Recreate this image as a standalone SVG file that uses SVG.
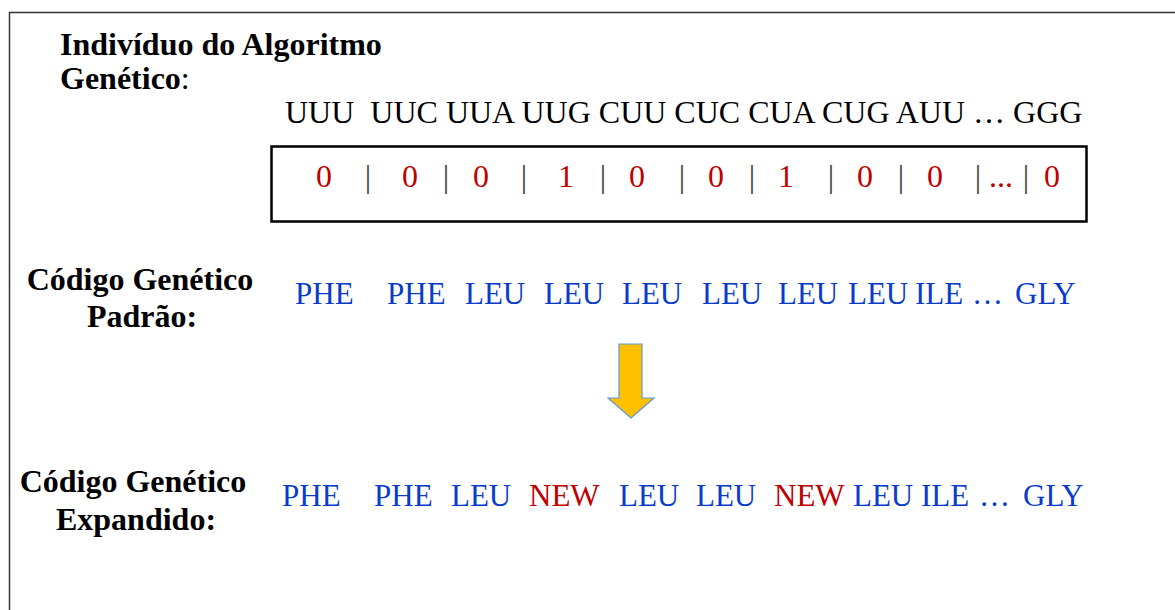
<svg xmlns="http://www.w3.org/2000/svg" width="1175" height="610" viewBox="0 0 1175 610">
<style>
text{font-family:"Liberation Serif","Times New Roman",serif;}
.lbl{font-size:32px;font-weight:bold;fill:#000;}
.cod{font-size:32px;fill:#000;white-space:pre;}
.bit{font-size:32px;fill:#C00000;}
.bar{font-size:32px;fill:#404040;}
.aa{font-size:31px;fill:#0A3CCB;}
.new{fill:#C00000;}
</style>
<rect width="1175" height="610" fill="#fff"/>
<g id="frame">
<rect x="9.5" y="12.5" width="1180" height="620" fill="none" stroke="#333" stroke-width="1.5"/>
</g>
<g id="individuo">
<text class="lbl" x="60" y="55">Indivíduo do Algoritmo</text>
<text class="lbl" x="60" y="89">Genético<tspan font-weight="normal">:</tspan></text>
<text class="cod" x="285" y="123">UUU  UUC UUA UUG CUU CUC CUA CUG AUU … GGG</text>
</g>
<g id="binario">
<rect x="271.5" y="146.5" width="815" height="75" fill="none" stroke="#000" stroke-width="2.5"/>
<text y="187" text-anchor="middle"><tspan class="bit" x="324">0</tspan><tspan class="bar" x="368">|</tspan><tspan class="bit" x="410">0</tspan><tspan class="bar" x="446">|</tspan><tspan class="bit" x="481">0</tspan><tspan class="bar" x="524">|</tspan><tspan class="bit" x="566">1</tspan><tspan class="bar" x="603">|</tspan><tspan class="bit" x="637">0</tspan><tspan class="bar" x="682">|</tspan><tspan class="bit" x="716">0</tspan><tspan class="bar" x="752">|</tspan><tspan class="bit" x="786">1</tspan><tspan class="bar" x="831">|</tspan><tspan class="bit" x="865">0</tspan><tspan class="bar" x="901">|</tspan><tspan class="bit" x="935">0</tspan><tspan class="bar" x="978">|</tspan><tspan class="bit" x="1001">...</tspan><tspan class="bar" x="1026">|</tspan><tspan class="bit" x="1052">0</tspan></text>
</g>
<g id="padrao">
<text class="lbl" x="140" y="290" text-anchor="middle">Código Genético</text>
<text class="lbl" x="142" y="327" text-anchor="middle">Padrão:</text>
<text class="aa" y="304"><tspan x="295">PHE</tspan><tspan x="387">PHE</tspan><tspan x="465">LEU</tspan><tspan x="544">LEU</tspan><tspan x="622">LEU</tspan><tspan x="702">LEU</tspan><tspan x="778">LEU</tspan><tspan x="848">LEU</tspan><tspan x="915">ILE</tspan><tspan x="972">…</tspan><tspan x="1015">GLY</tspan></text>
</g>
<g id="connectors">
<path d="M619,344 H642 V398 H654 L631,418 L608,398 H619 Z" fill="#FFC000" stroke="#5B9BD5" stroke-width="1.2"/>
</g>
<g id="expandido">
<text class="lbl" x="133" y="492" text-anchor="middle">Código Genético</text>
<text class="lbl" x="136" y="530" text-anchor="middle">Expandido:</text>
<text class="aa" y="506"><tspan x="282">PHE</tspan><tspan x="374">PHE</tspan><tspan x="451">LEU</tspan><tspan class="new" x="529">NEW</tspan><tspan x="619">LEU</tspan><tspan x="696">LEU</tspan><tspan class="new" x="774">NEW</tspan><tspan x="853">LEU</tspan><tspan x="921">ILE</tspan><tspan x="979">…</tspan><tspan x="1023">GLY</tspan></text>
</g>
</svg>
